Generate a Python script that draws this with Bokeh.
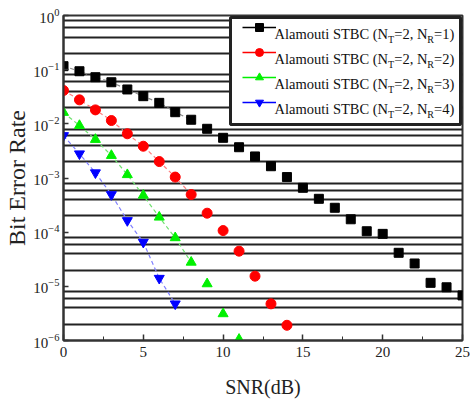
from bokeh.plotting import figure
from bokeh.models import (Legend, LegendItem, Label, Grid, FixedTicker, SingleIntervalTicker,
                          BoxAnnotation)
from bokeh.embed import file_html
from bokeh.resources import INLINE

# ---------------- data ----------------
snr_nr1 = list(range(26))
ber_nr1 = [0.116, 0.0935, 0.0726, 0.0586, 0.0431, 0.0324, 0.0244, 0.0164, 0.0119,
           0.0081, 0.00552, 0.0037, 0.0025, 0.00165, 0.00104, 6.59e-4, 4.13e-4,
           2.82e-4, 1.73e-4, 1.04e-4, 9.3e-5, 4.16e-5, 2.64e-5, 1.16e-5, 9.6e-6, 6.8e-6]
snr_nr2 = list(range(15))
ber_nr2 = [0.0412, 0.0277, 0.0181, 0.0115, 0.00655, 0.00386, 0.00201, 0.00104,
           4.95e-4, 2.24e-4, 1.07e-4, 4.46e-5, 1.54e-5, 4.75e-6, 1.91e-6]
snr_nr3 = list(range(12))
ber_nr3 = [0.0162, 0.0093, 0.00514, 0.0026, 0.00115, 4.79e-4, 1.89e-4, 7.87e-5,
           2.78e-5, 1.11e-5, 3.11e-6, 1.05e-6]
snr_nr4 = list(range(8))
ber_nr4 = [0.00608, 0.0028, 0.00125, 4.95e-4, 1.64e-4, 6.53e-5, 1.41e-5, 4.75e-6]

# number of points joined by the thin fitted curve
curve_len = [9, 9, 9, 8]

nr_labels = ["1", "2", "3", "4"]
x_label = "SNR(dB)"
y_label = "Bit Error Rate"

FONT = "Liberation Serif"
FRAME_H = 325
FRAME_W = 399

p = figure(width=470, height=402, x_range=(0, 25), y_range=(1e-6, 1),
           y_axis_type="log", output_backend="svg", toolbar_location=None,
           min_border_left=63, min_border_right=8, min_border_top=15, min_border_bottom=62)

p.xgrid.visible = False
p.ygrid.visible = False
p.background_fill_color = "white"
p.outline_line_color = "#333333"
p.outline_line_width = 2

# horizontal grid lines at 2,4,6,8 x 10^k
grid_vals = [m * 10.0 ** k for k in range(-6, 0) for m in (2, 4, 6, 8)]
g = Grid(dimension=1, ticker=FixedTicker(ticks=grid_vals),
         grid_line_color="#222222", grid_line_width=1.8)
p.add_layout(g)

# axes
p.xaxis.ticker = SingleIntervalTicker(interval=5, num_minor_ticks=2)
for ax in (p.xaxis, p.yaxis):
    ax.axis_line_color = "#333333"
    ax.axis_line_width = 2
    ax.major_tick_line_color = "#333333"
    ax.major_tick_line_width = 1.5
    ax.minor_tick_line_color = "#333333"
    ax.major_tick_out = 0
    ax.minor_tick_out = 0
    ax.major_label_text_font = FONT
    ax.major_label_text_font_size = "15px"
    ax.major_label_text_color = "#222222"
    ax.axis_label_text_font = FONT
    ax.axis_label_text_font_style = "normal"
    ax.axis_label_text_color = "#222222"
p.xaxis.major_tick_in = 6
p.xaxis.minor_tick_in = 4
p.xaxis.major_label_standoff = 6
p.xaxis.axis_label = x_label
p.xaxis.axis_label_text_font_size = "20px"
p.xaxis.axis_label_standoff = 16
p.yaxis.major_tick_in = 5
p.yaxis.minor_tick_line_color = None
p.yaxis.major_label_standoff = 4
p.yaxis.axis_label = y_label
p.yaxis.axis_label_text_font_size = "24px"
p.yaxis.axis_label_standoff = 0

series = [
    (snr_nr1, ber_nr1, "black", "#8a8a8a", "square"),
    (snr_nr2, ber_nr2, "#ff0000", "#ff8080", "circle"),
    (snr_nr3, ber_nr3, "#00f000", "#70e070", "triangle"),
    (snr_nr4, ber_nr4, "#0000ff", "#8080ff", "inverted_triangle"),
]

items = []
for (xs, ys, col, lcol, mk), n in zip(series, curve_len):
    p.line(xs[:n], ys[:n], line_color=lcol, line_width=1.2, line_dash="4 3")
    sr = p.scatter(xs, ys, marker=mk, size=10 if mk != "square" else 9,
                   fill_color=col, line_color=col)
    # single-point line: draws nothing in the plot, only the legend sample
    proxy = p.line(xs[:1], ys[:1], line_color=col, line_width=1.5)
    items.append(LegendItem(label=" ", renderers=[proxy, sr]))

# legend geometry (screen px, relative to the plot frame)
pad, glyph_w, standoff, lab_w, item_h, gap, mar = 6, 34, 4, 180, 20, 5, 2
leg_w = 2 * pad + glyph_w + standoff + lab_w
leg_h = 2 * pad + 4 * item_h + 3 * gap
leg_left = FRAME_W - mar - leg_w
leg_top = FRAME_H - mar

box = BoxAnnotation(left=leg_left, right=leg_left + leg_w, top=leg_top, bottom=leg_top - leg_h,
                    left_units="screen", right_units="screen", top_units="screen",
                    bottom_units="screen", fill_color="white", fill_alpha=1.0,
                    line_color="#222222", line_width=3, line_alpha=1.0)
p.add_layout(box)

legend = Legend(items=items, location="top_right", margin=mar, padding=pad, spacing=gap,
                glyph_width=glyph_w, glyph_height=item_h, label_height=item_h,
                label_width=lab_w, label_standoff=standoff, border_line_color=None,
                background_fill_alpha=0.0, label_text_font_size="1px")
p.add_layout(legend)

# legend texts with subscripts (Times/Liberation Serif advance widths, 1/1000 em)
W = {"A": 722, "l": 278, "a": 444, "m": 778, "o": 500, "u": 500, "t": 278, "i": 278,
     " ": 250, "S": 556, "T": 611, "B": 667, "C": 667, "(": 333, ")": 333, "N": 722,
     "=": 564, ",": 250, "R": 667, "0": 500, "1": 500, "2": 500, "3": 500, "4": 500}


def tw(s, size):
    return sum(W.get(c, 500) for c in s) * size / 1000.0


main_size = 14.5
sub_size = 10
x0 = leg_left + pad + glyph_w + standoff
for i, nr in enumerate(nr_labels):
    y = leg_top - pad - item_h / 2 - (item_h + gap) * i
    pieces = [("Alamouti STBC (N", False), ("T", True), ("=2, N", False),
              ("R", True), ("=" + nr + ")", False)]
    x = x0
    for txt, sub in pieces:
        size = sub_size if sub else main_size
        p.add_layout(Label(x=x, y=y - (6 if sub else 0), x_units="screen", y_units="screen",
                           text=txt, text_font=FONT, text_font_size=f"{size}px",
                           text_baseline="middle", text_align="left", text_color="#111111"))
        x += tw(txt, size)

open("out.html", "w").write(file_html(p, INLINE))
